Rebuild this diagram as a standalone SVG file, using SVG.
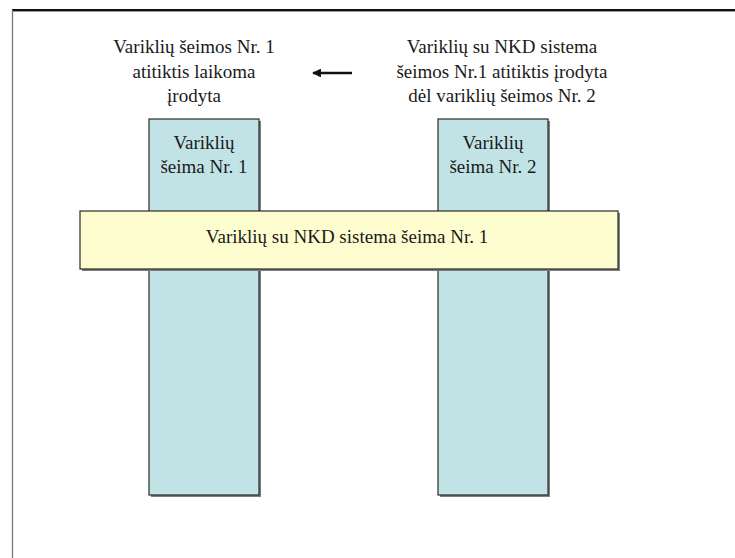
<svg xmlns="http://www.w3.org/2000/svg" width="735" height="558" viewBox="0 0 735 558">
<style>
  text { font-family: "Liberation Serif", "Times New Roman", serif; font-size: 19px; fill: #1a1a1a; text-anchor: middle; }
  .shadow { fill: #7a7f80; }
  .col { fill: #c2e3e6; stroke: #2a2a2a; stroke-width: 1.2; }
  .bar { fill: #fefdd0; stroke: #2a2a2a; stroke-width: 1.2; }
</style>
<defs>
  <marker id="ah" viewBox="0 0 10 10" refX="9" refY="5" markerWidth="4" markerHeight="3.4" orient="auto" markerUnits="strokeWidth">
    <path d="M0,0 L10,5 L0,10 Z" fill="#111"/>
  </marker>
</defs>
<rect width="735" height="558" fill="#ffffff"/>
<g id="frame">
  <line x1="12" y1="10" x2="735" y2="10" stroke="#111" stroke-width="2"/>
  <line x1="12" y1="11.5" x2="735" y2="11.5" stroke="#999" stroke-width="1"/>
  <line x1="12.5" y1="10" x2="12.5" y2="558" stroke="#777" stroke-width="1.3"/>
</g>
<g id="label-left">
  <text x="194" y="53">Variklių šeimos Nr. 1</text>
  <text x="194" y="78">atitiktis laikoma</text>
  <text x="194" y="102">įrodyta</text>
</g>
<g id="label-right">
  <text x="502" y="53">Variklių su NKD sistema</text>
  <text x="502" y="78">šeimos Nr.1 atitiktis įrodyta</text>
  <text x="502" y="102">dėl variklių šeimos Nr. 2</text>
</g>
<g id="connectors">
  <line x1="352" y1="73" x2="313" y2="73" stroke="#111" stroke-width="2.6" marker-end="url(#ah)"/>
</g>
<g id="family1">
  <rect class="shadow" x="151" y="121" width="110" height="376"/>
  <rect class="col" x="149" y="119" width="110" height="376"/>
  <text x="204" y="149">Variklių</text>
  <text x="204" y="173">šeima Nr. 1</text>
</g>
<g id="family2">
  <rect class="shadow" x="440" y="121" width="110" height="376"/>
  <rect class="col" x="438" y="119" width="110" height="376"/>
  <text x="493" y="149">Variklių</text>
  <text x="493" y="173">šeima Nr. 2</text>
</g>
<g id="nkd-family1">
  <rect class="shadow" x="82" y="213" width="538" height="58"/>
  <rect class="bar" x="80" y="211" width="538" height="58"/>
  <text x="347" y="243">Variklių su NKD sistema šeima Nr. 1</text>
</g>
</svg>
